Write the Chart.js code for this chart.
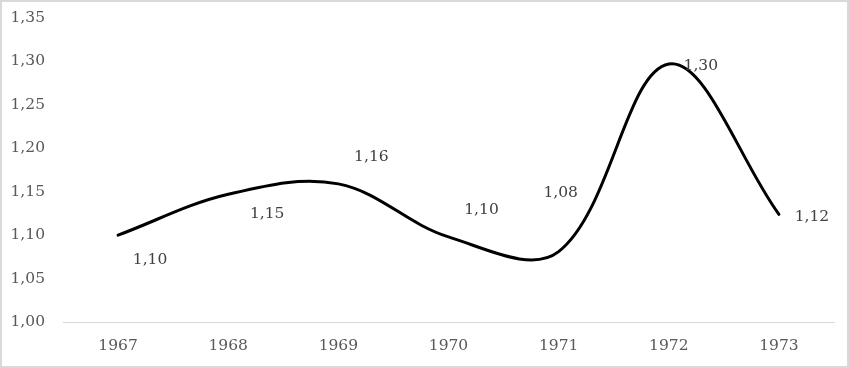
<!DOCTYPE html>
<html>
<head>
<meta charset="utf-8">
<script src="https://cdn.jsdelivr.net/npm/chart.js@4"></script>
<style>
  html, body { margin: 0; padding: 0; background: #fff; }
  #wrap { width: 849px; height: 368px; position: relative; }
</style>
</head>
<body>
<div id="wrap"><canvas id="c" width="849" height="368"></canvas></div>
<script>
// Data
const categories = ['1967', '1968', '1969', '1970', '1971', '1972', '1973'];
const values = [1.10, 1.147, 1.159, 1.098, 1.081, 1.297, 1.124];
const yTicks = [1.00, 1.05, 1.10, 1.15, 1.20, 1.25, 1.30, 1.35];

// Label placement relative to each point (style, not data)
const labelOffsets = [[32, 25], [39, 20], [33, -27], [33, -27], [2, -59], [32, 2], [33, 3]];

const FONT = '"DejaVu Serif", serif';
const fmt = v => v.toFixed(2).replace('.', ',');

const borderPlugin = {
  id: 'frame',
  afterDraw(chart) {
    const ctx = chart.ctx;
    ctx.save();
    ctx.strokeStyle = '#d9d9d9';
    ctx.lineWidth = 2;
    ctx.strokeRect(1, 1, chart.width - 2, chart.height - 2);
    ctx.restore();
  }
};

const labelPlugin = {
  id: 'pointLabels',
  afterDatasetsDraw(chart) {
    const ctx = chart.ctx;
    const meta = chart.getDatasetMeta(0);
    ctx.save();
    ctx.font = '15.5px ' + FONT;
    ctx.fillStyle = '#404040';
    ctx.textAlign = 'center';
    ctx.textBaseline = 'middle';
    meta.data.forEach((pt, i) => {
      const off = labelOffsets[i];
      ctx.fillText(fmt(values[i]), pt.x + off[0], pt.y + off[1]);
    });
    ctx.restore();
  }
};

new Chart(document.getElementById('c'), {
  type: 'line',
  data: {
    labels: categories,
    datasets: [{
      data: values,
      borderColor: '#000000',
      borderWidth: 3,
      tension: 0.36,
      pointRadius: 0,
      fill: false,
      borderCapStyle: 'round',
      borderJoinStyle: 'round'
    }]
  },
  options: {
    responsive: false,
    animation: false,
    devicePixelRatio: 1,
    layout: { padding: { left: 0, right: 15, top: 18, bottom: 0 } },
    plugins: { legend: { display: false }, tooltip: { enabled: false } },
    scales: {
      x: {
        offset: true,
        grid: { display: false, drawTicks: false },
        border: { display: true, color: '#d9d9d9', width: 1 },
        ticks: { color: '#595959', font: { family: FONT, size: 15.5 }, padding: 15, maxRotation: 0 },
        afterFit(scale) { scale.height = 46; scale.paddingLeft = 0; scale.paddingRight = 0; }
      },
      y: {
        min: 1.0,
        max: 1.35,
        grid: { display: false, drawTicks: false },
        border: { display: false },
        afterBuildTicks(scale) { scale.ticks = yTicks.map(v => ({ value: v })); },
        ticks: {
          color: '#595959',
          font: { family: FONT, size: 15.5 },
          padding: 18,
          callback: v => fmt(v)
        },
        afterFit(scale) { scale.width = 63; scale.paddingTop = 0; scale.paddingBottom = 0; }
      }
    }
  },
  plugins: [borderPlugin, labelPlugin]
});
</script>
</body>
</html>
